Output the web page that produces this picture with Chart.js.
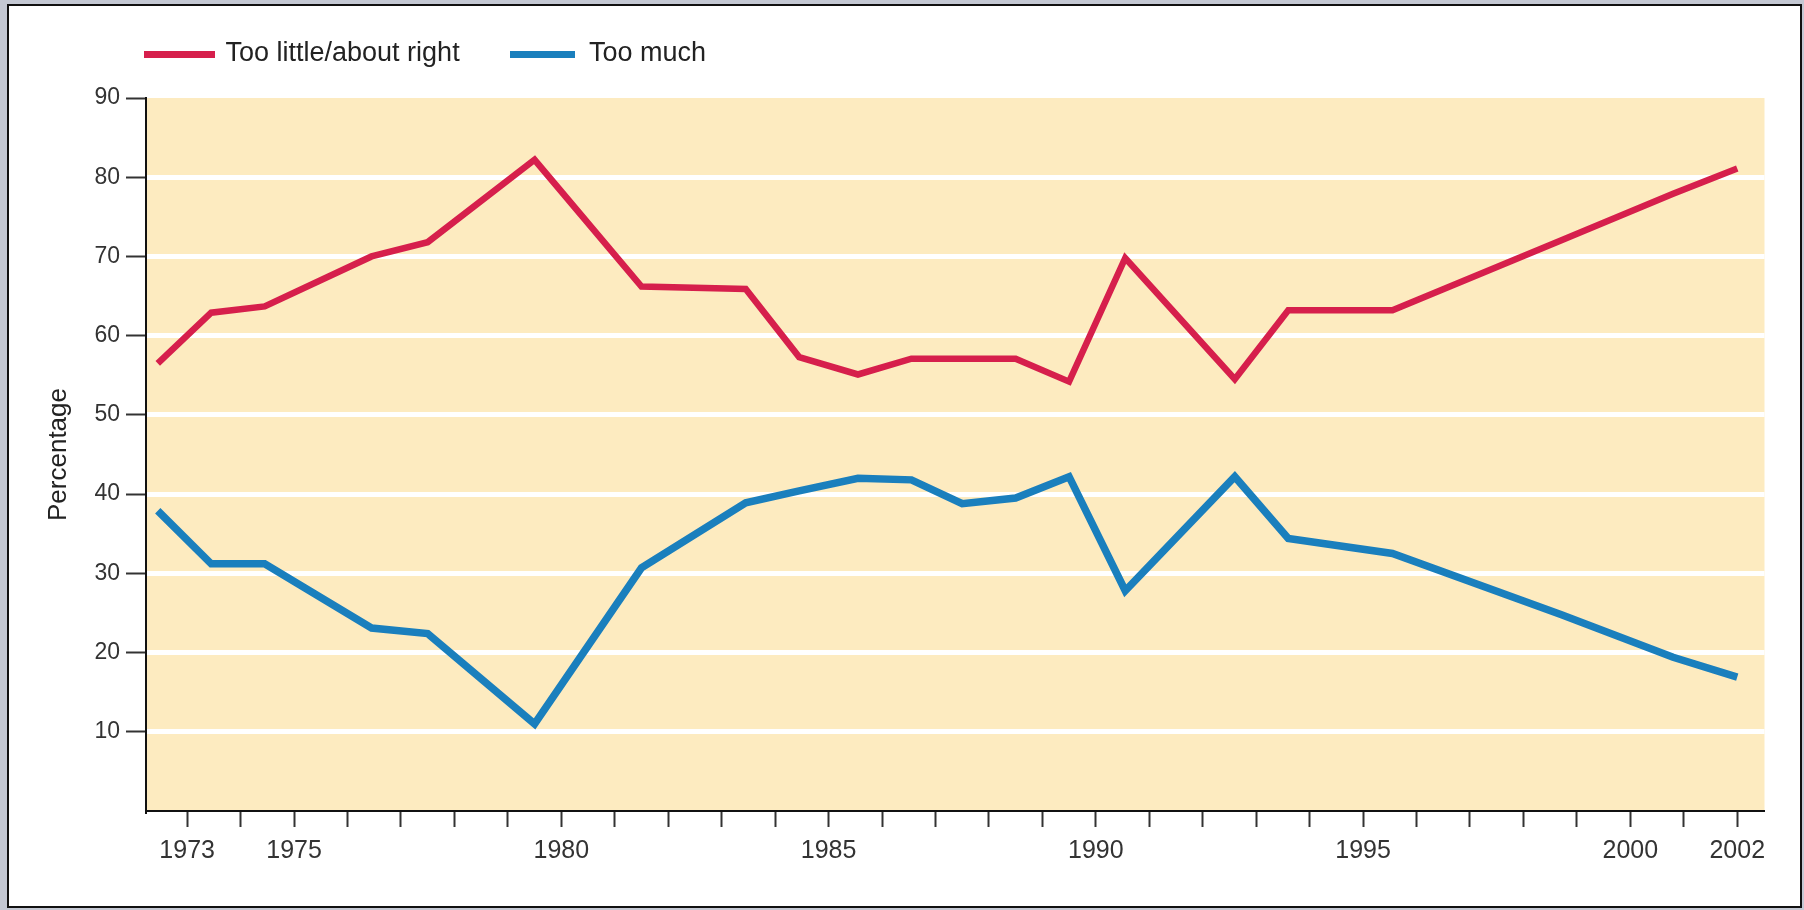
<!DOCTYPE html>
<html>
<head>
<meta charset="utf-8">
<script src="https://cdn.jsdelivr.net/npm/chart.js@4.4.0/dist/chart.umd.min.js"></script>
<style>
  html, body { margin: 0; padding: 0; }
  body { width: 1804px; height: 910px; background: #c4c8d3; overflow: hidden; position: relative; }
  #frame { position: absolute; left: 7px; top: 4px; width: 1795px; height: 904px; box-sizing: border-box; border: 2px solid #111; background: #fff; }
  #wrap { position: absolute; left: 0; top: 0; width: 1791px; height: 900px; }
</style>
</head>
<body>
<div id="frame"><div id="wrap"><canvas id="grafico"></canvas></div></div>
<script>
// posiciones de los puntos (años)
const years = [1972.45, 1973.45, 1974.45, 1976.45, 1977.5, 1979.5, 1981.5, 1983.45, 1984.45, 1985.55,
  1986.55, 1987.5, 1988.5, 1989.5, 1990.55, 1992.6, 1993.6, 1995.55, 1998.7, 2000.8, 2002];
const tooLittle = [56.5, 62.9, 63.7, 70.0, 71.8, 82.2, 66.2, 65.9, 57.3, 55.1,
  57.1, 57.1, 57.1, 54.2, 69.8, 54.5, 63.2, 63.2, 72.0, 77.9, 81.1];
const tooMuch = [37.9, 31.2, 31.2, 23.1, 22.4, 11.0, 30.7, 38.9, 40.4, 42.0,
  41.8, 38.8, 39.5, 42.2, 27.8, 42.2, 34.4, 32.5, 24.8, 19.4, 16.9];
const labelYears = [1973, 1975, 1980, 1985, 1990, 1995, 2000, 2002];
const yTicks = [0, 10, 20, 30, 40, 50, 60, 70, 80, 90];

const rojo = "#d61f4c";
const azul = "#1a7fbd";

// fondo amarillo del área del gráfico
const fondo = {
  id: "fondo",
  beforeDraw(chart) {
    const a = chart.chartArea;
    const ctx = chart.ctx;
    ctx.save();
    ctx.fillStyle = "#fdebc0";
    ctx.fillRect(a.left, a.top, a.right - a.left, a.bottom - a.top);
    ctx.restore();
  },
};

// leyenda con líneas gruesas
const leyenda = {
  id: "leyenda",
  afterDraw(chart) {
    const ctx = chart.ctx;
    const items = [
      { x: 135, w: 71, tx: 216.5 },
      { x: 501, w: 65, tx: 580 },
    ];
    ctx.save();
    ctx.font = "27px 'Liberation Sans', sans-serif";
    ctx.textBaseline = "middle";
    chart.data.datasets.forEach((ds, i) => {
      const it = items[i];
      ctx.fillStyle = ds.borderColor;
      ctx.fillRect(it.x, 45, it.w, 7);
      ctx.fillStyle = "#222";
      ctx.fillText(ds.label, it.tx, 48);
    });
    ctx.restore();
  },
};

const ctx = document.getElementById("grafico").getContext("2d");
new Chart(ctx, {
  type: "line",
  data: {
    datasets: [
      {
        label: "Too little/about right",
        data: years.map((x, i) => ({ x: x, y: tooLittle[i] })),
        borderColor: rojo,
        borderWidth: 6.5,
        pointRadius: 0,
        tension: 0,
      },
      {
        label: "Too much",
        data: years.map((x, i) => ({ x: x, y: tooMuch[i] })),
        borderColor: azul,
        borderWidth: 7.5,
        pointRadius: 0,
        tension: 0,
      },
    ],
  },
  options: {
    responsive: true,
    maintainAspectRatio: false,
    animation: false,
    layout: { padding: { top: 92, right: 35.5, left: 0, bottom: 0 } },
    plugins: { legend: { display: false }, tooltip: { enabled: false } },
    scales: {
      x: {
        type: "linear",
        min: 1972.23,
        max: 2002.51,
        afterBuildTicks: (scale) => {
          const t = [];
          for (let y = 1973; y <= 2002; y++) t.push({ value: y });
          scale.ticks = t;
        },
        afterFit: (scale) => { scale.height = 95; },
        ticks: {
          autoSkip: false,
          maxRotation: 0,
          padding: 9,
          color: "#333",
          font: { family: "'Liberation Sans', sans-serif", size: 25 },
          callback: (v) => (labelYears.includes(v) ? String(v) : ""),
        },
        grid: { drawOnChartArea: false, tickLength: 16, tickWidth: 2, tickColor: "#333" },
        border: { color: "#111", width: 2 },
      },
      y: {
        min: 0,
        max: 90,
        afterBuildTicks: (scale) => { scale.ticks = yTicks.map((v) => ({ value: v })); },
        afterFit: (scale) => { scale.width = 137; },
        ticks: {
          padding: 6,
          color: "#333",
          font: { family: "'Liberation Sans', sans-serif", size: 23 },
          callback: (v) => (v === 0 ? "" : String(v)),
        },
        grid: {
          color: (c) => (c.tick && (c.tick.value === 0 || c.tick.value === 90) ? "rgba(0,0,0,0)" : "#ffffff"),
          lineWidth: 5,
          tickLength: 20,
          tickWidth: 2,
          tickColor: (c) => (c.tick && c.tick.value === 0 ? "rgba(0,0,0,0)" : "#333"),
        },
        border: { color: "#111", width: 2 },
        title: {
          display: true,
          text: "Percentage",
          color: "#222",
          font: { family: "'Liberation Sans', sans-serif", size: 26 },
          padding: { top: 34, bottom: 0 },
        },
      },
    },
  },
  plugins: [fondo, leyenda],
});
</script>
</body>
</html>
